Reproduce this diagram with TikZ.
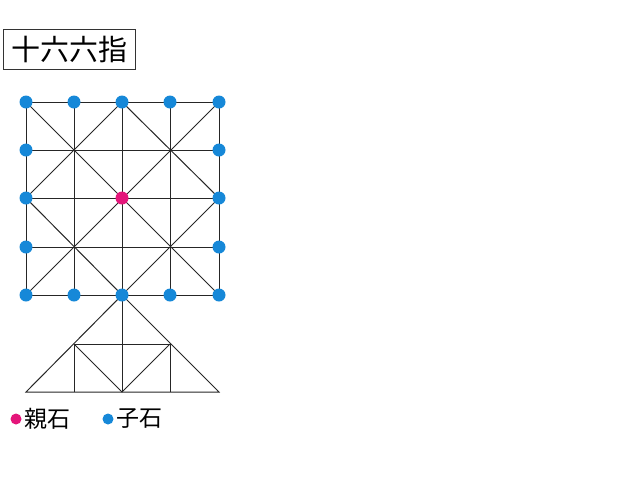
\documentclass[tikz,border=0pt]{standalone}
\usepackage{fontspec}
\newfontfamily\cjk{Noto Sans CJK JP}
\definecolor{stoneblue}{HTML}{1688D8}
\definecolor{stonepink}{HTML}{E4157A}
\begin{document}
\begin{tikzpicture}[x=1pt,y=-1pt,
  gline/.style={draw=black!85,line width=1pt},
  kostone/.style={circle,fill=stoneblue,inner sep=0pt,minimum size=13pt},
  oyastone/.style={circle,fill=stonepink,inner sep=0pt,minimum size=13pt},
  legdot/.style={circle,inner sep=0pt,minimum size=11pt},
  labeltext/.style={font=\cjk\fontsize{23}{25}\selectfont,inner sep=0pt,anchor=west}]
\useasboundingbox (0,0) rectangle (640,480);
% title
\node[draw=black!80,line width=0.9pt,minimum width=132pt,minimum height=40pt,inner sep=0pt,
  font=\cjk\fontsize{29}{31}\selectfont] (title) at (69,49) {十六六指};
% grid coordinates
\foreach \i/\x in {0/26,1/74,2/122,3/170,4/219}{
  \foreach \j/\y in {0/102,1/150,2/198,3/247,4/295}{
    \coordinate (g\i\j) at (\x,\y);
  }
}
\coordinate (b0) at (26,392);
\coordinate (b1) at (74,392);
\coordinate (b2) at (122,392);
\coordinate (b3) at (170,392);
\coordinate (b4) at (219,392);
\coordinate (m1) at (74,344);
\coordinate (m3) at (170,344);
% grid lines
\foreach \k in {0,...,4}{
  \draw[gline] (g\k0) -- (g\k4);
  \draw[gline] (g0\k) -- (g4\k);
}
\draw[gline] (g00) -- (g44);
\draw[gline] (g40) -- (g04);
\draw[gline] (g20) -- (g02) -- (g24) -- (g42) -- cycle;
% triangle
\draw[gline] (g24) -- (b0) -- (b4) -- cycle;
\draw[gline] (m1) -- (m3);
\draw[gline] (g24) -- (b2);
\draw[gline] (m1) -- (b1);
\draw[gline] (m3) -- (b3);
\draw[gline] (m1) -- (b2) -- (m3);
% stones
\foreach \i in {0,...,4}{
  \node[kostone] (top\i) at (g\i0) {};
  \node[kostone] (bot\i) at (g\i4) {};
}
\foreach \j in {1,2,3}{
  \node[kostone] (lft\j) at (g0\j) {};
  \node[kostone] (rgt\j) at (g4\j) {};
}
\node[oyastone] (oya) at (g22) {};
% legend
\node[legdot,fill=stonepink] (lpink) at (16,419) {};
\node[labeltext] (loya) at (24.5,419) {親石};
\node[legdot,fill=stoneblue] (lblue) at (108,419) {};
\node[labeltext] (lko) at (116.5,419) {子石};
\end{tikzpicture}
\end{document}
